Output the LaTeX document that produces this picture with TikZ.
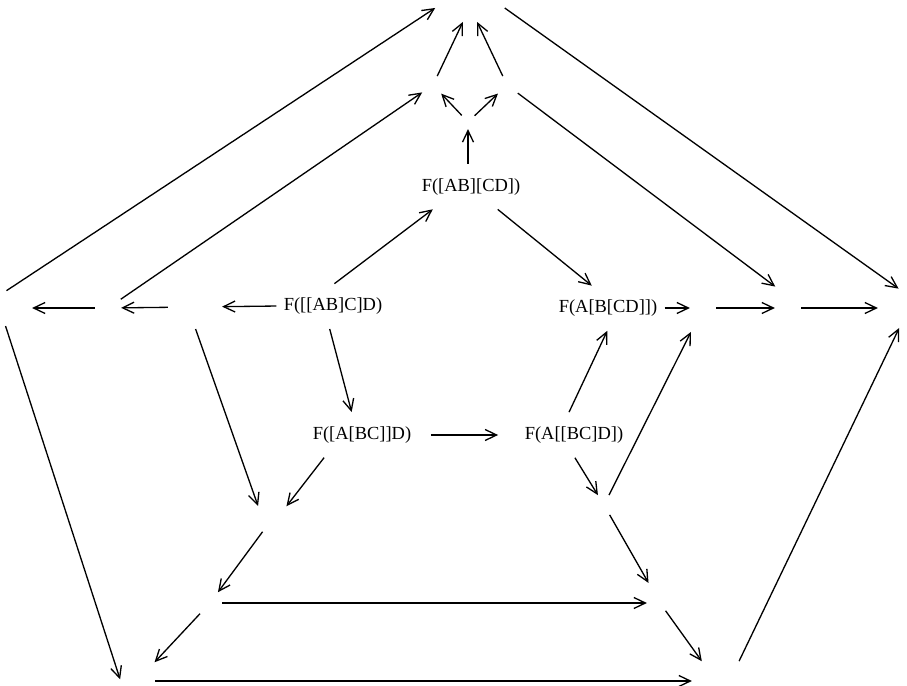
\documentclass[tikz,border=0pt]{standalone}
\usepackage{fontspec}
\setmainfont{Liberation Serif}
\usetikzlibrary{arrows.meta, calc}

\begin{document}
\begin{tikzpicture}[
    x=0.02cm, y=-0.02cm,
    term/.style={inner xsep=3pt, inner ysep=6.9pt, text height=7.5pt, text depth=2.5pt, font=\fontsize{10.5}{12}\selectfont},
    spot/.style={rectangle, draw=none, inner sep=0pt},
    arrow/.style={-{Straight Barb[length=2.3mm, width=2.2mm]}, line width=0.75pt, shorten <=1pt, shorten >=1pt}
]
\useasboundingbox (0,0) rectangle (907,686);

% Labelled functors
\node[term] at (471,187) (fT) {F([AB][CD])};
\node[term] at (333,306) (fL) {F([[AB]C]D)};
\node[term] at (608,308) (fR) {F(A[B[CD]])};
\node[term] at (362,435) (fBL) {F([A[BC]]D)};
\node[term] at (574,435) (fBR) {F(A[[BC]D])};

% Blank places, top
\node[spot, minimum width=1.32cm, minimum height=0.52cm] at (470,7) (apex) {};
\node[spot, minimum width=0.36cm, minimum height=0.28cm] at (433,85) (tl) {};
\node[spot, minimum width=0.36cm, minimum height=0.28cm] at (507,85) (tr) {};
\node[spot, minimum width=0.2cm, minimum height=0.2cm] at (468,122) (fork) {};

% Blank places, left
\node[spot, minimum width=1.0cm, minimum height=0.64cm] at (5,308) (w1) {};
\node[spot, minimum width=0.44cm, minimum height=0.48cm] at (108,308) (w2) {};
\node[spot, minimum width=1.0cm, minimum height=0.8cm] at (195,307) (w3) {};

% Blank places, right
\node[spot, minimum width=0.44cm, minimum height=0.88cm] at (703,308) (e1) {};
\node[spot, minimum width=0.44cm, minimum height=0.8cm] at (788,308) (e2) {};
\node[spot, minimum width=0.8cm, minimum height=0.72cm] at (900,308) (e3) {};

% Blank places, bottom
\node[spot, minimum width=0.52cm, minimum height=0.44cm] at (272,519) (s1) {};
\node[spot, minimum width=0.4cm, minimum height=0.36cm] at (210,603) (s2) {};
\node[spot, minimum width=0.44cm, minimum height=0.24cm] at (660,603) (s3) {};
\node[spot, minimum width=0.32cm, minimum height=0.32cm] at (604,505) (s4) {};
\node[spot, minimum width=0.64cm, minimum height=0.88cm] at (137,681) (sw) {};
\node[spot, minimum width=0.88cm, minimum height=0.72cm] at (716,681) (se) {};

% Outer ring
\draw[arrow] (w1.north) -- (apex.west);
\draw[arrow] (apex.east) -- (e3.north);
\draw[arrow] (w1.south) -- (sw.west);
\draw[arrow] (sw) -- (se);
\draw[arrow] (se.north east) -- (e3.south);

% Second ring
\draw[arrow] (w2) -- (tl);
\draw[arrow] (tl) -- (apex);
\draw[arrow] (tr) -- (apex);
\draw[arrow] (tr) -- (e2.north west);
\draw[arrow] (w2) -- (w1);
\draw[arrow] (w3) -- (w2);
\draw[arrow] (e1) -- (e2);
\draw[arrow] (e2) -- (e3);

% Inner pentagon and its spokes
\draw[arrow] (fT.north -| fork) -- (fork);
\draw[arrow] (fork) -- (tl);
\draw[arrow] (fork) -- (tr);
\draw[arrow] (fL.north) -- (fT.-150);
\draw[arrow] (fT.-40) -- (fR.125);
\draw[arrow] (fL.west) -- (w3);
\draw[arrow] (w3.south) -- (s1.north west);
\draw[arrow] (fL.-100) -- (fBL.115);
\draw[arrow, shorten <=8pt, shorten >=12pt] (fBL.east) -- (fBR.west);
\draw[arrow] (fBL.-150) -- (s1.north east);
\draw[arrow] (fBR.105) -- (fR.south);
\draw[arrow] (fBR.south) -- (s4);
\draw[arrow] (fR.east) -- (e1);

% Lower part
\draw[arrow] (s1) -- (s2);
\draw[arrow] (s2) -- (s3);
\draw[arrow] (s2) -- (sw);
\draw[arrow] (s4) -- (e1);
\draw[arrow, shorten >=9pt] (s4) -- (s3);
\draw[arrow] (s3) -- (se);

\end{tikzpicture}
\end{document}
